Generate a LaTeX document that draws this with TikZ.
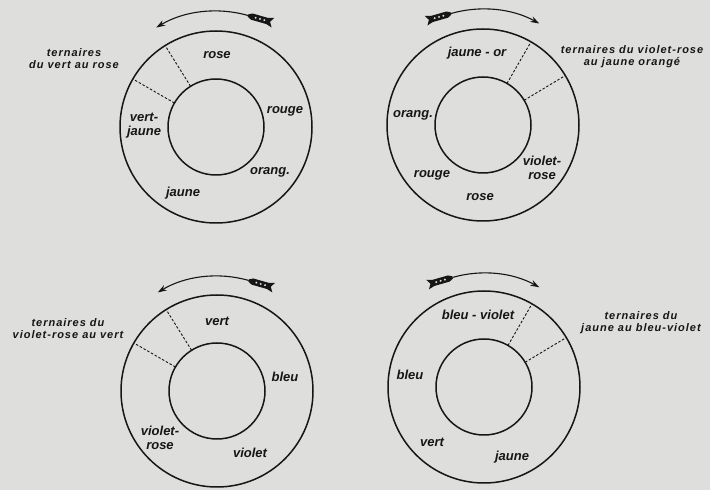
\documentclass[tikz,border=0pt]{standalone}
\usepackage{fontspec}
\setmainfont{Liberation Sans}
\newfontfamily\ternfont{Liberation Sans}[LetterSpace=9]
\usetikzlibrary{arrows.meta,calc}
\definecolor{paper}{RGB}{222,222,220}
\definecolor{ink}{RGB}{22,22,22}

\begin{document}
\begin{tikzpicture}[x=1pt,y=1pt,
  ring/.style={circle,draw=ink,line width=1.5pt,inner sep=0pt,outer sep=0pt,
               minimum size=192pt},
  hole/.style={ring,minimum size=96pt},
  sep/.style={draw=ink,line width=0.9pt,dash pattern=on 2.5pt off 1.8pt},
  turn/.style={draw=ink,line width=1.1pt,-{Stealth[length=9pt,width=6pt]}},
  lab/.style={ink,font=\fontsize{13}{14}\selectfont\bfseries\itshape,
              inner sep=1pt,align=center},
  tlab/.style={ink,font=\ternfont\fontsize{11}{12}\selectfont\bfseries\itshape,
               inner sep=0pt,align=center},
  fletch/.pic={
    \fill[ink] (0,-1.2) -- (4,-3.2) -- (20,-3.2) -- (26,-5) -- (23,0)
               -- (26,5) -- (20,3.2) -- (4,3.2) -- (0,1.2) -- cycle;
    \foreach \d in {8,12.5,17} \fill[paper] (\d,0) circle (1.1);
  },
  ]
  \fill[paper] (0,0) rectangle (710,490);
  \useasboundingbox (0,0) rectangle (710,490);

  % centres
  \coordinate (tlc) at (216,363);
  \coordinate (trc) at (483,365);
  \coordinate (blc) at (217,99);
  \coordinate (brc) at (484,103);

  % rings
  \node[ring] (tlout) at (tlc) {};
  \node[hole] (tlin)  at (tlc) {};
  \node[ring] (trout) at (trc) {};
  \node[hole] (trin)  at (trc) {};
  \node[ring] (blout) at (blc) {};
  \node[hole] (blin)  at (blc) {};
  \node[ring] (brout) at (brc) {};
  \node[hole] (brin)  at (brc) {};

  % ternary sectors
  \draw[sep] (tlin.122) -- (tlout.122);
  \draw[sep] (tlin.150) -- (tlout.150);
  \draw[sep] (trin.60)  -- (trout.60);
  \draw[sep] (trin.31)  -- (trout.31);
  \draw[sep] (blin.122) -- (blout.122);
  \draw[sep] (blin.150) -- (blout.150);
  \draw[sep] (brin.60)  -- (brout.60);
  \draw[sep] (brin.31)  -- (brout.31);

  % turning arrows
  \draw[turn] ([shift={(74:116)}]tlc) arc[start angle=74,end angle=121,radius=116];
  \pic[rotate=-16] at ([shift={(74:116)}]tlc) {fletch};
  \draw[turn] ([shift={(106:116)}]trc) arc[start angle=106,end angle=61,radius=116];
  \pic[rotate=196] at ([shift={(106:116)}]trc) {fletch};
  \draw[turn] ([shift={(74:115)}]blc) arc[start angle=74,end angle=121,radius=115];
  \pic[rotate=-16] at ([shift={(74:115)}]blc) {fletch};
  \draw[turn] ([shift={(106:114)}]brc) arc[start angle=106,end angle=61,radius=114];
  \pic[rotate=196] at ([shift={(106:114)}]brc) {fletch};

  % top left
  \node[tlab] (tlt)    at (74,431)  {ternaires\\du vert au rose};
  \node[lab]  (tlrs)   at (217,435) {rose};
  \node[lab]  (tlrg)   at (285,379) {rouge};
  \node[lab]  (tlor)   at (270,318) {orang.};
  \node[lab]  (tlja)   at (183,297) {jaune};
  \node[lab]  (tlvj)   at (144,364) {vert-\\jaune};

  % top right
  \node[tlab] (trt)    at (632,433) {ternaires du violet-rose\\au jaune orangé};
  \node[lab]  (trjo)   at (477,437) {jaune - or};
  \node[lab]  (tror)   at (413,375) {orang.};
  \node[lab]  (trrg)   at (432,315) {rouge};
  \node[lab]  (trrs)   at (480,293) {rose};
  \node[lab]  (trvr)   at (542,322) {violet-\\rose};

  % bottom left
  \node[tlab] (blt)    at (68,161)  {ternaires du\\violet-rose au vert};
  \node[lab]  (blvt)   at (217,169) {vert};
  \node[lab]  (blbl)   at (285,113) {bleu};
  \node[lab]  (blvi)   at (250,37)  {violet};
  \node[lab]  (blvr)   at (160,52)  {violet-\\rose};

  % bottom right
  \node[tlab] (brt)    at (641,167) {ternaires du\\jaune au bleu-violet};
  \node[lab]  (brbv)   at (478,175) {bleu - violet};
  \node[lab]  (brbl)   at (410,115) {bleu};
  \node[lab]  (brvt)   at (432,48)  {vert};
  \node[lab]  (brja)   at (512,33)  {jaune};
\end{tikzpicture}
\end{document}
